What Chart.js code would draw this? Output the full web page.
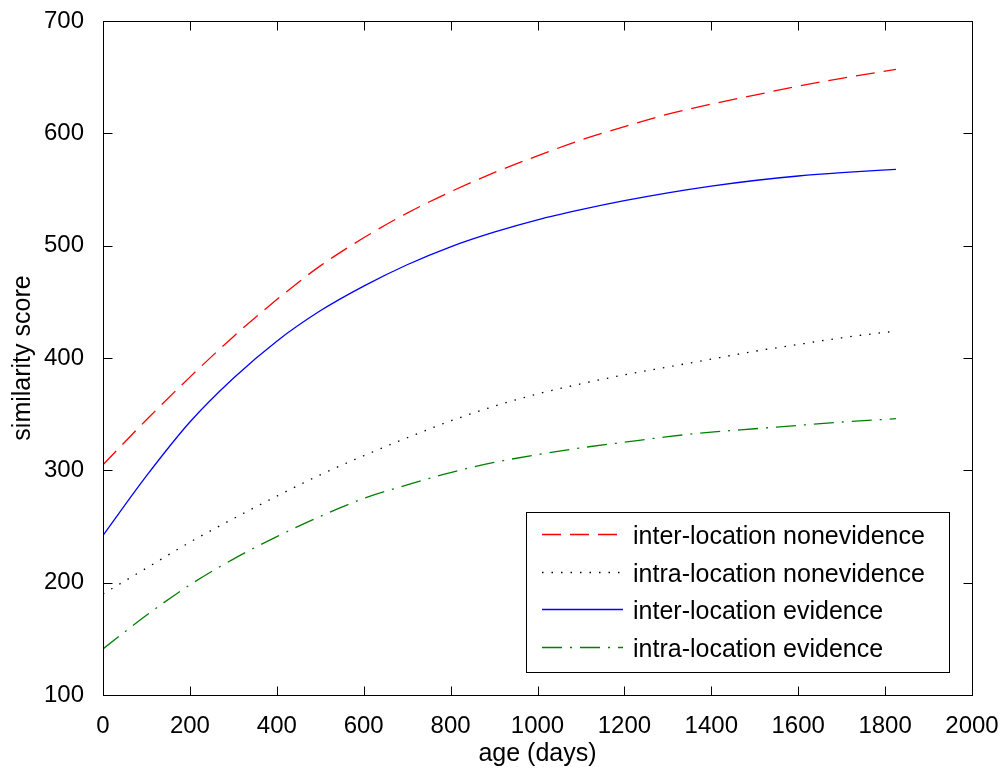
<!DOCTYPE html>
<html>
<head>
<meta charset="utf-8">
<script src="https://cdn.jsdelivr.net/npm/chart.js@4.4.1/dist/chart.umd.min.js"></script>
<style>
  html, body { margin: 0; padding: 0; background: #fff; }
  #chart { display: block; }
</style>
</head>
<body>
<canvas id="chart" width="1003" height="771"></canvas>
<script>
// values
const ages = [0, 100, 200, 300, 400, 500, 600, 700, 800, 900, 1000, 1100, 1200, 1300, 1400, 1500, 1600, 1700, 1825];
const interNonevidence = [305, 345, 383, 419, 452, 482, 507, 529, 548, 565, 580, 594, 606, 617, 626, 634, 642, 649, 657];
const intraNonevidence = [190, 213, 236, 257, 277, 296, 313, 329, 344, 357, 368, 377, 385, 392, 399, 406, 412, 418, 424];
const interEvidence = [242, 295, 343, 382, 415, 442, 464, 483, 499, 512, 523, 532, 540, 547, 553, 558, 562, 565, 568];
const intraEvidence = [141, 171, 198, 221, 241, 259, 275, 287, 298, 307, 314, 320, 325, 330, 334, 337, 340, 343, 346];

const xTicks = [0, 200, 400, 600, 800, 1000, 1200, 1400, 1600, 1800, 2000];
const yTicks = [100, 200, 300, 400, 500, 600, 700];

const fontFamily = '"Liberation Sans", Arial, sans-serif';

function toPoints(values) {
  return ages.map((a, i) => ({ x: a, y: values[i] }));
}

function series(label, values, color, dash) {
  return {
    label: label,
    data: toPoints(values),
    borderColor: color,
    backgroundColor: color,
    borderWidth: 1.3,
    borderDash: dash,
    pointRadius: 0,
    fill: false,
    cubicInterpolationMode: 'monotone'
  };
}

// box, inward ticks and legend, matlab style
const matlabFrame = {
  id: 'matlabFrame',
  afterDraw(chart) {
    const ctx = chart.ctx;
    const area = chart.chartArea;
    const xs = chart.scales.x;
    const ys = chart.scales.y;
    const tick = 9;

    ctx.save();
    ctx.strokeStyle = '#000';
    ctx.lineWidth = 1;
    ctx.setLineDash([]);
    const l = Math.round(area.left) + 0.5, r = Math.round(area.right) + 0.5;
    const t = Math.round(area.top) + 0.5, b = Math.round(area.bottom) + 0.5;
    ctx.strokeRect(l, t, r - l, b - t);

    ctx.beginPath();
    xTicks.forEach(v => {
      const px = Math.round(xs.getPixelForValue(v)) + 0.5;
      ctx.moveTo(px, b); ctx.lineTo(px, b - tick);
      ctx.moveTo(px, t); ctx.lineTo(px, t + tick);
    });
    yTicks.forEach(v => {
      const py = Math.round(ys.getPixelForValue(v)) + 0.5;
      ctx.moveTo(l, py); ctx.lineTo(l + tick, py);
      ctx.moveTo(r, py); ctx.lineTo(r - tick, py);
    });
    ctx.stroke();

    // legend box
    const box = { x: 526.5, y: 512.5, w: 423, h: 160 };
    ctx.fillStyle = '#fff';
    ctx.fillRect(box.x, box.y, box.w, box.h);
    ctx.strokeRect(box.x, box.y, box.w, box.h);

    ctx.font = '25px ' + fontFamily;
    ctx.textBaseline = 'middle';
    ctx.textAlign = 'left';
    chart.data.datasets.forEach((ds, i) => {
      const y = 534 + i * 37.7;
      ctx.strokeStyle = ds.borderColor;
      ctx.lineWidth = ds.borderWidth;
      ctx.setLineDash(ds.borderDash || []);
      ctx.beginPath();
      ctx.moveTo(542, Math.round(y) + 0.5);
      ctx.lineTo(623, Math.round(y) + 0.5);
      ctx.stroke();
      ctx.setLineDash([]);
      ctx.fillStyle = '#000';
      ctx.fillText(ds.label, 633, y + 3);
    });
    ctx.restore();
  }
};

new Chart(document.getElementById('chart'), {
  type: 'line',
  data: {
    datasets: [
      series('inter-location nonevidence', interNonevidence, '#ff0000', [19, 9]),
      series('intra-location nonevidence', intraNonevidence, '#000000', [1.5, 8]),
      series('inter-location evidence', interEvidence, '#0000ff', []),
      series('intra-location evidence', intraEvidence, '#008000', [20, 8, 2, 8])
    ]
  },
  options: {
    responsive: false,
    animation: false,
    devicePixelRatio: 1,
    layout: { padding: { left: 0, right: 31, top: 21, bottom: 0 } },
    plugins: {
      legend: { display: false },
      tooltip: { enabled: false }
    },
    scales: {
      x: {
        type: 'linear',
        min: 0,
        max: 2000,
        // fixed axis band, label overhang is covered by layout padding
        afterFit: s => { s.height = 76; s.paddingLeft = 0; s.paddingRight = 0; },
        afterBuildTicks: s => { s.ticks = xTicks.map(v => ({ value: v })); },
        ticks: {
          padding: 9, color: '#000', maxRotation: 0,
          font: { family: fontFamily, size: 24 },
          callback: v => String(v)
        },
        grid: { display: false },
        border: { display: false },
        title: {
          display: true,
          text: 'age (days)',
          color: '#000',
          font: { family: fontFamily, size: 25 },
          padding: { top: 0, bottom: 2 }
        }
      },
      y: {
        type: 'linear',
        min: 100,
        max: 700,
        afterFit: s => { s.width = 103; s.paddingTop = 0; s.paddingBottom = 0; },
        afterBuildTicks: s => { s.ticks = yTicks.map(v => ({ value: v })); },
        ticks: {
          padding: 11, color: '#000',
          font: { family: fontFamily, size: 24 },
          callback: v => String(v)
        },
        grid: { display: false },
        border: { display: false },
        title: {
          display: true,
          text: 'similarity score',
          color: '#000',
          font: { family: fontFamily, size: 25 },
          padding: { top: 8, bottom: 0 }
        }
      }
    }
  },
  plugins: [matlabFrame]
});
</script>
</body>
</html>
